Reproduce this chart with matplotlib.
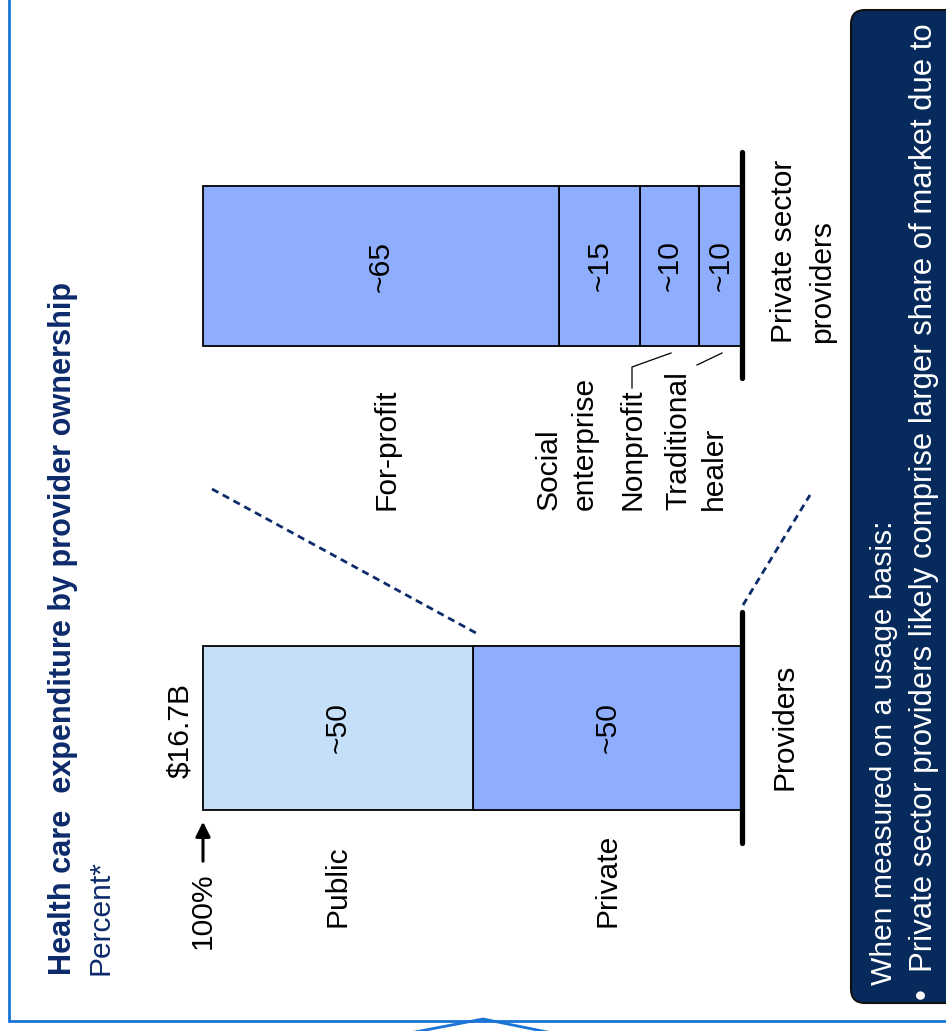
import matplotlib
matplotlib.use("Agg")
import matplotlib.pyplot as plt
from matplotlib.patches import FancyBboxPatch
from matplotlib.transforms import Affine2D

W, H = 946, 1031

# chart values (percent of spend)
provider_segments = ["Private", "Public"]
provider_values = [50, 50]
provider_text = ["~50", "~50"]
provider_total = "$16.7B"

private_segments = ["Traditional\nhealer", "Nonprofit", "Social\nenterprise", "For-profit"]
private_values = [8, 11, 15, 66]
private_text = ["~10", "~10", "~15", "~65"]

bar_names = ["Providers", "Private sector\nproviders"]

title = "Health care  expenditure by provider ownership"
subtitle = "Percent*"
note_head = "When measured on a usage basis:"
note_bullet = u"\u2022  Private sector providers likely comprise larger share of market due to"

plt.rcParams['font.family'] = ['Liberation Sans', 'DejaVu Sans']
FS = 21.6
NAVY = "#0d2b6b"
LIGHT = "#c6dff9"
PERI = "#8fadfd"
BLUE = "#1a74d6"

fig = plt.figure(figsize=(W / 100, H / 100), dpi=100)
# pixel coords, origin top-left
px = Affine2D().scale(1.0 / W, -1.0 / H).translate(0, 1) + fig.transFigure

ax = fig.add_axes([0, 0, 1, 1])
# value 0 sits at the baseline (pixel 742), 100 at pixel 203
scale = (742 - 203) / 100.0
ax.set_xlim(742 / scale, (742 - W) / scale)
ax.set_ylim(H, 0)
ax.axis('off')

y_prov, h_prov = 728, 164
y_priv, h_priv = 266, 160

# providers bar
left = 0
for name, v, t, c in zip(provider_segments, provider_values, provider_text, [PERI, LIGHT]):
    ax.barh(y_prov, v, left=left, height=h_prov, color=c, edgecolor='black', linewidth=1.3)
    ax.text(left + v / 2, y_prov, t, rotation=90, ha='center', va='center', fontsize=FS)
    ax.text(left + v / 2, 927, name, rotation=90, ha='center', va='bottom', fontsize=FS)
    left += v

# private sector bar
left = 0
for v, t in zip(private_values, private_text):
    ax.barh(y_priv, v, left=left, height=h_priv, color=PERI, edgecolor='black', linewidth=1.3)
    ax.text(left + v / 2, y_priv, t, rotation=90, ha='center', va='center', fontsize=FS)
    left += v

# baselines
ax.plot([0, 0], [y_prov - 116, y_prov + 115], color='black', lw=3.8, solid_capstyle='round')
ax.plot([0, 0], [y_priv - 114, y_priv + 112], color='black', lw=3.8, solid_capstyle='round')

# segment labels of the private sector bar
seg_x = {"For-profit": 386, "Social\nenterprise": 567, "Nonprofit": 632, "Traditional\nhealer": 696}
for name in private_segments:
    fig.text(seg_x[name], 510, name, rotation=90, ha='center', va='bottom',
             multialignment='left', fontsize=FS, transform=px, linespacing=1.36)
ax.plot([632, 632, 671], [388, 367, 353], color='black', lw=0.9, transform=px)
ax.plot([697, 722], [365, 353], color='black', lw=0.9, transform=px)

# bar names
fig.text(784, 727, bar_names[0], rotation=90, ha='center', va='center', fontsize=FS, transform=px)
fig.text(803, 343, bar_names[1], rotation=90, ha='center', va='bottom',
         multialignment='left', fontsize=FS, transform=px, linespacing=1.44)

# total and 100% marker
fig.text(180, 730, provider_total, rotation=90, ha='center', va='center', fontsize=FS, transform=px)
fig.text(203, 949, "100%", rotation=90, ha='center', va='bottom', fontsize=FS, transform=px)
ax.annotate("", xy=(203, 819), xytext=(203, 864), xycoords=px, textcoords=px,
            arrowprops=dict(arrowstyle='-|>', color='black', lw=2.2, mutation_scale=22))

# dashed connectors
ax.plot([212, 476], [489, 633], color=NAVY, lw=2.0, dashes=(2.6, 1.8), transform=px)
ax.plot([743, 810], [605, 495], color=NAVY, lw=2.0, dashes=(2.6, 1.8), transform=px)

# title
fig.text(63, 975, title, rotation=90, ha='center', va='bottom', fontsize=22.1,
         fontweight='bold', color=NAVY, transform=px)
fig.text(100, 975, subtitle, rotation=90, ha='center', va='bottom', fontsize=FS,
         color=NAVY, transform=px)

# outer frame with callout notch
ax.plot([9, 9, W], [0, 1021, 1021], color=BLUE, lw=2.0, transform=px, solid_joinstyle='miter')
ax.plot([410, 483, 552], [H + 2, 1019, H + 2], color=BLUE, lw=2.0, transform=px)

# dark note box
box = FancyBboxPatch((851, 10), 140, 993, boxstyle="round,pad=0,rounding_size=14",
                     facecolor="#062a5c", edgecolor="#111111", lw=1.5, transform=px)
fig.patches.append(box)
fig.text(884, 985, note_head, rotation=90, ha='center', va='bottom', fontsize=FS,
         color='white', transform=px)
fig.text(924, 1000, note_bullet, rotation=90, ha='center', va='bottom', fontsize=22.4,
         color='white', transform=px)

fig.savefig("out.png", dpi=100)
